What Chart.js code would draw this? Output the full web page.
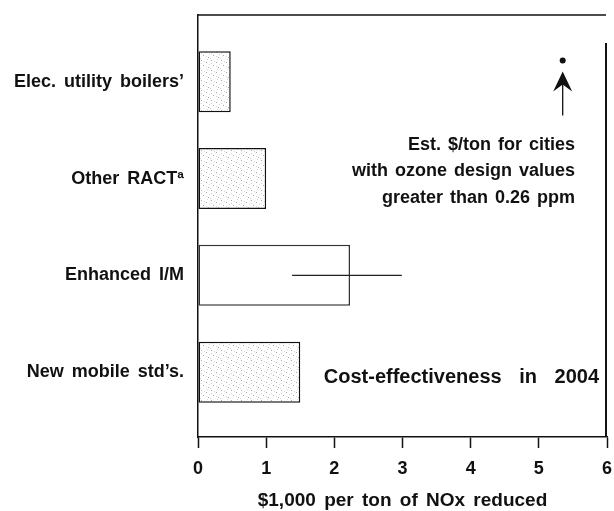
<!DOCTYPE html>
<html>
<head>
<meta charset="utf-8">
<script src="https://cdn.jsdelivr.net/npm/chart.js@4/dist/chart.umd.min.js"></script>
<style>
  html, body { margin: 0; padding: 0; background: #ffffff; }
  #wrap { width: 614px; height: 511px; }
</style>
</head>
<body>
<div id="wrap"><canvas id="c" width="614" height="511"></canvas></div>
<script>
// ---- data ----
const categories = ["Elec. utility boilers’", "Other RACTª", "Enhanced I/M", "New mobile std’s."];
const costValues = [0.48, 1.0, 2.23, 1.5];          // $1,000 per ton
const errLow = [null, null, 1.38, null];
const errHigh = [null, null, 2.99, null];
const highOzoneEstimate = [5.35];                    // dot with arrow
const xTicks = [0, 1, 2, 3, 4, 5, 6];
const xTitle = "$1,000 per ton of NOx reduced";
const noteLines = ["Est. $/ton for cities", "with ozone design values", "greater than 0.26 ppm"];
const chartNote = "Cost-effectiveness in 2004";

const FONT = "'Liberation Sans', Arial, Helvetica, sans-serif";
const INK = "#111111";

const canvas = document.getElementById('c');
const ctx0 = canvas.getContext('2d');

function makeStipple() {
  const c = document.createElement('canvas');
  c.width = 10; c.height = 10;
  const g = c.getContext('2d');
  g.fillStyle = '#ffffff';
  g.fillRect(0, 0, 10, 10);
  g.fillStyle = '#a8a8a8';
  [[1,0],[6,2],[3,5],[8,7]].forEach(([x,y]) => g.fillRect(x, y, 1, 1));
  g.fillStyle = '#d6d6d6';
  [[4,1],[9,4],[1,3],[6,6],[0,8],[7,9]].forEach(([x,y]) => g.fillRect(x, y, 1, 1));
  return ctx0.createPattern(c, 'repeat');
}
const stipple = makeStipple();

const barData = costValues.map((v, i) => ({x: v, y: i}));
const fills = categories.map((_, i) => errLow[i] !== null ? '#ffffff' : stipple);
const borders = categories.map((_, i) => errLow[i] !== null ? '#333333' : '#111111');

const decor = {
  id: 'decor',
  beforeDraw(chart) {
    chart.ctx.wordSpacing = '3px';
  },
  afterDatasetsDraw(chart) {
    const ctx = chart.ctx;
    const xs = chart.scales.x;
    const area = chart.chartArea;
    ctx.save();
    // error bars
    ctx.strokeStyle = '#222222';
    ctx.lineWidth = 1.2;
    const meta = chart.getDatasetMeta(0);
    errLow.forEach((lo, i) => {
      if (lo === null) return;
      const y = meta.data[i].y;
      ctx.beginPath();
      ctx.moveTo(xs.getPixelForValue(lo), y);
      ctx.lineTo(xs.getPixelForValue(errHigh[i]), y);
      ctx.stroke();
    });
    // frame: top line and right line
    ctx.strokeStyle = INK;
    ctx.lineWidth = 1.5;
    ctx.beginPath();
    ctx.moveTo(area.left, area.top);
    ctx.lineTo(area.right - 1, area.top);
    ctx.stroke();
    ctx.lineWidth = 2;
    ctx.beginPath();
    ctx.moveTo(area.right - 1, area.top + 28);
    ctx.lineTo(area.right - 1, area.bottom);
    ctx.stroke();
    // arrow under the estimate dot
    const dm = chart.getDatasetMeta(1);
    const p = dm.data[0];
    const ax = p.x, tip = p.y + 11;
    ctx.fillStyle = INK;
    ctx.beginPath();
    ctx.moveTo(ax, tip);
    ctx.lineTo(ax + 9.5, tip + 20);
    ctx.lineTo(ax, tip + 13);
    ctx.lineTo(ax - 9.5, tip + 20);
    ctx.closePath();
    ctx.fill();
    ctx.lineWidth = 1.3;
    ctx.beginPath();
    ctx.moveTo(ax, tip + 12);
    ctx.lineTo(ax, tip + 44);
    ctx.stroke();
    // notes
    ctx.fillStyle = INK;
    ctx.textAlign = 'right';
    ctx.textBaseline = 'middle';
    ctx.font = "bold 18px " + FONT;
    ctx.wordSpacing = '2px';
    noteLines.forEach((t, k) => ctx.fillText(t, 575, 145 + k * 26.5));
    ctx.font = "bold 20px " + FONT;
    ctx.wordSpacing = '12px';
    ctx.fillText(chartNote, 599, 377);
    ctx.restore();
  }
};

new Chart(canvas, {
  type: 'bar',
  data: {
    datasets: [
      {
        type: 'bar',
        data: barData,
        backgroundColor: fills,
        borderColor: borders,
        borderWidth: 1.5,
        borderSkipped: false,
        categoryPercentage: 1,
        barPercentage: 0.63
      },
      {
        type: 'scatter',
        data: highOzoneEstimate.map(v => ({x: v, y: -0.22})),
        pointRadius: 3,
        pointBackgroundColor: INK,
        pointBorderWidth: 0,
        showLine: false
      }
    ]
  },
  options: {
    indexAxis: 'y',
    responsive: false,
    animation: false,
    devicePixelRatio: 1,
    layout: { padding: { left: 0, top: 15, right: 7, bottom: 0 } },
    plugins: { legend: { display: false }, tooltip: { enabled: false } },
    scales: {
      x: {
        type: 'linear',
        position: 'bottom',
        min: 0, max: 6,
        offset: false,
        afterBuildTicks: s => { s.ticks = xTicks.map(v => ({value: v})); },
        afterFit: s => { s.height = 74; s.paddingLeft = 0; s.paddingRight = 0; },
        grid: { drawOnChartArea: false, drawTicks: true, tickLength: 11, color: INK, tickWidth: 1.5, offset: false },
        border: { display: true, color: INK, width: 1.5 },
        ticks: { color: INK, padding: 10, font: { family: FONT, size: 18, weight: 'bold' } },
        title: { display: true, text: xTitle, color: INK, padding: { top: 4, bottom: -1 },
                 font: { family: FONT, size: 19, weight: 'bold' } }
      },
      y: {
        type: 'linear',
        reverse: true,
        offset: false,
        min: -0.69, max: 3.67,
        afterBuildTicks: s => { s.ticks = categories.map((_, i) => ({value: i})); },
        afterFit: s => { s.width = 198; s.paddingTop = 0; s.paddingBottom = 0; },
        grid: { display: true, drawOnChartArea: false, drawTicks: false, color: 'rgba(0,0,0,0)', offset: false },
        border: { display: true, color: INK, width: 1.5 },
        ticks: { color: INK, padding: 14, autoSkip: false,
                 callback: v => categories[v] !== undefined ? categories[v] : '',
                 font: { family: FONT, size: 18, weight: 'bold' } }
      }
    }
  },
  plugins: [decor]
});
</script>
</body>
</html>
